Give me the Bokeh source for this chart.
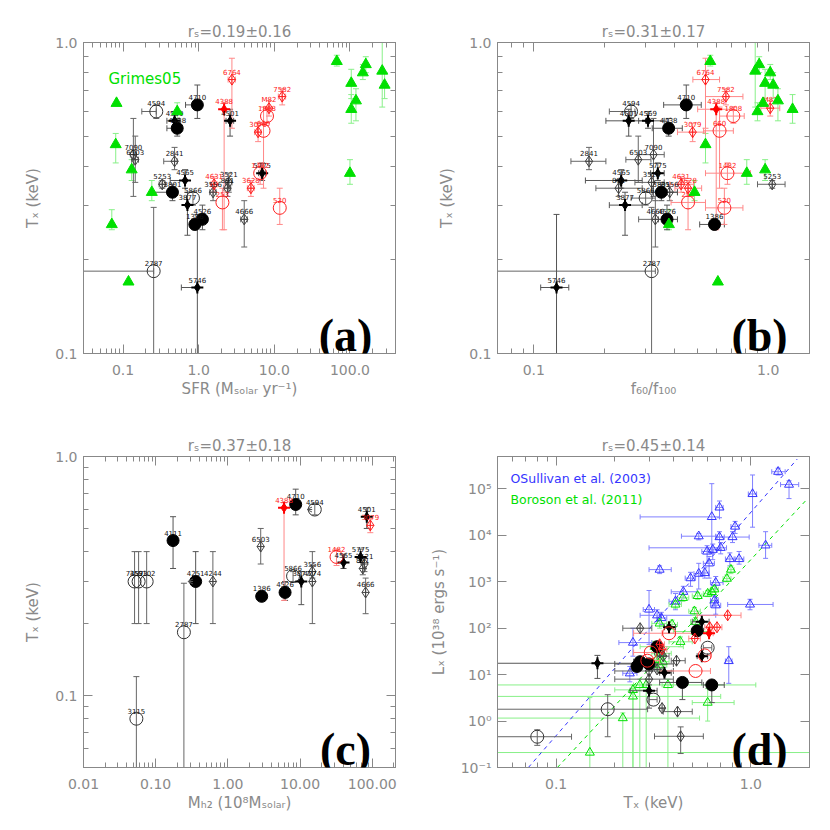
import math
from bokeh.plotting import figure
from bokeh.models import (Range1d, LogAxis, FixedTicker, CustomJSTickFormatter,
                          Label, Arrow, OpenHead)
from bokeh.layouts import row, column
from bokeh.embed import file_html
from bokeh.resources import INLINE
from bokeh.core.properties import value

nan = float("nan")

# ---------------- data ----------------
NAMES = ["4710", "4438", "3801", "1386", "4526", "4111", "4251",
         "4569", "4501", "4565", "3877", "5775", "5746",
         "7090", "6503", "2841", "5253", "3521", "3556", "891", "4666", "4244", "4274",
         "4594", "2787", "5866", "3115", "7457", "3593", "5102",
         "6764", "7582", "M82", "3079", "4631", "3628", "4388",
         "1808", "660", "520", "1482", "253"]
GROUP = ["fc", "fc", "fc", "fc", "fc", "fc", "fc",
         "fs", "fs", "fs", "fs", "fs", "fs",
         "od", "od", "od", "od", "od", "od", "od", "od", "od", "od",
         "oc", "oc", "oc", "oc", "oc", "oc", "oc",
         "rd", "rd", "rd", "rd", "rd", "rd", "rs",
         "rc", "rc", "rc", "rc", "rc"]
TX = [0.63, 0.53, 0.33, 0.26, 0.27, 0.445, 0.30,
      0.56, 0.56, 0.36, 0.30, 0.38, 0.163,
      0.436, 0.42, 0.415, 0.35, 0.355, 0.33, 0.34, 0.27, 0.30, 0.30,
      0.60, 0.184, 0.316, 0.08, 0.30, 0.30, 0.30,
      0.76, 0.67, 0.615, 0.515, 0.35, 0.34, 0.61,
      0.58, 0.52, 0.294, 0.38, 0.306]
TX_LO = [0.57, 0.50, 0.31, 0.25, 0.25, 0.34, 0.20,
         0.53, 0.50, 0.34, 0.24, 0.36, 0.05,
         0.32, 0.355, 0.39, 0.34, 0.33, 0.31, 0.32, 0.22, 0.20, 0.20,
         0.57, 0.05, 0.30, 0.05, 0.20, 0.20, 0.20,
         0.53, 0.63, 0.58, 0.48, 0.33, 0.32, 0.25,
         0.55, 0.34, 0.26, 0.35, 0.25]
TX_HI = [0.73, 0.57, 0.35, 0.27, 0.30, 0.56, 0.40,
         0.60, 0.61, 0.39, 0.33, 0.41, 0.28,
         0.57, 0.50, 0.46, 0.36, 0.38, 0.35, 0.36, 0.31, 0.40, 0.40,
         0.63, 0.295, 0.33, 0.12, 0.40, 0.40, 0.40,
         0.89, 0.71, 0.65, 0.55, 0.37, 0.36, 0.64,
         0.62, 0.62, 0.34, 0.41, 0.34]
SFR = [0.96, 0.52, 0.45, 0.89, 1.12, nan, nan,
       0.48, 2.6, 0.66, 0.71, 6.9, 0.96,
       0.137, 0.145, 0.48, 0.33, 2.5, 1.55, 2.4, 4.0, nan, nan,
       0.275, 0.254, 0.84, nan, nan, nan, nan,
       2.75, 12.7, 8.5, 6.1, 1.6, 4.9, 2.17,
       8.0, 7.2, 11.8, 6.5, 2.06]
SFR_LO = [0.67, 0.38, 0.24, nan, nan, nan, nan,
          0.38, 2.3, 0.42, nan, 6.2, 0.59,
          0.125, 0.13, 0.345, 0.30, 2.25, 1.4, 2.15, 3.6, nan, nan,
          0.177, 0.02, nan, nan, nan, nan, nan,
          2.45, 11.3, nan, 5.5, 1.45, 4.4, nan,
          nan, nan, nan, nan, nan]
SFR_HI = [1.0, 0.52, 0.45, nan, nan, nan, nan,
          0.55, 2.9, 0.66, nan, 7.6, 1.0,
          0.15, 0.16, 0.52, 0.36, 2.75, 1.7, 2.65, 4.4, nan, nan,
          0.275, 0.254, nan, nan, nan, nan, nan,
          3.05, 14.1, nan, 6.7, 1.75, 5.4, nan,
          nan, nan, nan, nan, nan]
F60 = [0.447, 0.376, 0.35, 0.59, 0.37, nan, nan,
       0.307, 0.254, 0.236, 0.245, 0.338, 0.125,
       0.324, 0.279, 0.172, 1.04, 0.318, 0.38, 0.23, 0.33, nan, nan,
       0.26, 0.318, 0.30, nan, nan, nan, nan,
       0.54, 0.66, 1.02, 0.476, 0.425, 0.455, 0.60,
       0.71, 0.62, 0.65, 0.67, 0.455]
F60_LO = [0.358, 0.32, 0.32, 0.51, 0.34, nan, nan,
          0.28, 0.203, 0.166, 0.21, 0.315, 0.107,
          0.28, 0.247, 0.144, 0.90, 0.27, 0.35, 0.184, 0.28, nan, nan,
          0.21, 0.05, 0.26, nan, nan, nan, nan,
          0.477, 0.54, 0.93, 0.41, 0.38, 0.40, 0.50,
          0.62, 0.53, 0.54, 0.54, 0.385]
F60_HI = [0.518, 0.43, 0.41, 0.65, 0.41, nan, nan,
          0.36, 0.30, 0.29, 0.29, 0.36, 0.141,
          0.36, 0.316, 0.203, 1.18, 0.36, 0.41, 0.29, 0.36, nan, nan,
          0.27, 0.33, 0.33, nan, nan, nan, nan,
          0.62, 0.78, 1.12, 0.54, 0.48, 0.52, 0.71,
          0.79, 0.71, 0.78, 0.84, 0.54]
MH2 = [8.7, nan, nan, 2.94, 6.2, 0.174, 0.358,
       nan, 84, 40, 10.4, 69, nan,
       nan, 2.85, nan, nan, 78, 14.8, 74, 81, 0.62, 14.8,
       16, 0.246, 8.0, 0.054, 0.051, 0.058, 0.075,
       nan, nan, nan, 94, nan, nan, 6.0,
       nan, nan, nan, 32, nan]
MH2_UPPER = ["4251", "4594"]
LX = [6, 88, 40, 15, 19, 6.8, 17,
      25, 138, 11, 4.5, 105, 17.6,
      0.47, 1.6, 20, 1.9, 25, 13, 30, 100, 8, 12,
      38, 1.8, 2.9, 0.46, nan, nan, nan,
      190, 105, 105, 60, 35, 45, 78,
      26, 12, 20, 78, 30]
LX_LO = [2.5, nan, nan, nan, nan, 2.9, nan,
         nan, nan, nan, 1.9, nan, 8.3,
         0.2, nan, nan, nan, nan, nan, nan, nan, nan, nan,
         nan, 0.46, nan, 0.3, nan, nan, nan,
         nan, nan, nan, nan, nan, nan, nan,
         nan, nan, nan, nan, nan]
LX_HI = [7.5, nan, nan, nan, nan, 8.0, nan,
         nan, nan, nan, 6.0, nan, 26,
         0.75, nan, nan, nan, nan, nan, nan, nan, nan, nan,
         nan, 3.7, nan, 0.65, nan, nan, nan,
         nan, nan, nan, nan, nan, nan, nan,
         nan, nan, nan, nan, nan]

# Grimes et al. 2005 (green triangles, panels a & b)
G_TX = [0.87, 0.85, 0.81, 0.80, 0.74, 0.73, 0.65, 0.638, 0.61, 0.60, 0.47, 0.39, 0.38, 0.33, 0.26, 0.17]
G_TX_LO = [0.84, 0.80, 0.62, 0.76, 0.66, 0.66, 0.56, nan, 0.55, 0.56, 0.41, 0.36, 0.35, 0.31, 0.25, nan]
G_TX_HI = [0.91, 0.90, 1.04, 0.85, 0.82, 0.80, 0.71, nan, 0.68, 0.64, 0.51, 0.42, 0.42, 0.36, 0.29, nan]
G_SFR = [67, 162, 267, 148, 104, 287, 120, 0.082, 104, 0.52, 0.08, 0.13, 100, 0.24, 0.071, 0.118]
G_F60 = [0.566, 0.915, 0.88, 1.02, 0.97, 1.05, 1.1, 0.95, 1.27, 0.90, 0.54, 0.97, 0.81, 0.485, 0.377, 0.61]

# O'Sullivan et al. 2003 (blue, panel d)
OS_T = [1.38, 1.57, 1.02, 0.69, 0.63, 0.83, 0.54, 0.69, 0.805, 0.70, 1.19, 0.596, 0.637, 0.78, 0.87, 0.61,
        0.34, 0.54, 0.58, 0.49, 0.66, 0.45, 0.41, 0.65, 0.66, 0.99, 0.30, 0.33, 0.347, 0.248, 0.239, 0.77]
OS_T_LO = [1.28, 1.42, 0.97, 0.66, 0.27, 0.79, 0.44, 0.66, 0.67, 0.30, 1.10, 0.56, 0.60, 0.74, 0.83, 0.57,
           0.30, 0.51, 0.55, 0.46, 0.62, 0.39, 0.38, 0.62, 0.62, 0.76, 0.28, 0.27, 0.33, 0.21, 0.22, 0.74]
OS_T_HI = [1.50, 1.76, 1.07, 0.72, 0.69, 0.87, 0.66, 0.73, 0.98, 0.75, 1.28, 0.64, 0.67, 0.82, 0.92, 0.65,
           0.39, 0.57, 0.61, 0.52, 0.72, 0.53, 0.44, 0.68, 0.70, 1.30, 0.32, 0.66, 0.37, 0.31, 0.26, 0.80]
OS_L = [2.35e5, 1.24e5, 7.8e4, 4.0e4, 2.5e4, 1.55e4, 9.6e3, 9.2e3, 9.2e3, 5.4e3, 6.1e3, 4.5e3, 4.9e3, 3.1e3,
        3.1e3, 2.5e3, 1.83e3, 1.5e3, 1.55e3, 1.2e3, 960, 610, 380, 400, 313, 325, 253, 190, 166, 49, 10.7, 19.7]
OS_L_LO = [2.0e5, 6.2e4, 1.5e4, 2.4e4, 4.1e3, 1.1e4, 8e3, 5e3, 7e3, 4e3, 3.2e3, 2.5e3, 3e3, 2.2e3,
           2.4e3, 1.2e3, 1.5e3, 700, 1.2e3, 800, 700, 450, 250, 300, 200, 250, 45, 140, 120, 25, 7, 6.5]
OS_L_HI = [2.8e5, 1.5e5, 2.0e5, 5.5e4, 1.3e5, 2.0e4, 1.1e4, 1.2e4, 1.2e4, 7e3, 1.2e4, 6e3, 6.5e3, 4.2e3,
           4.5e3, 3.5e3, 2.2e3, 2.5e3, 2e3, 1.6e3, 1.3e3, 800, 560, 520, 460, 420, 650, 250, 220, 100, 15, 40]
OS_FIT_T = [0.072, 1.73]
OS_FIT_L = [0.1, 4.4e5]

# Boroson et al. 2011 (green open triangles, panel d)
BO_T = [0.79, 0.753, 0.65, 0.63, 0.60, 0.533, 0.448, 0.41, 0.34, 0.394, 0.513, 0.52, 0.435, 0.32,
        0.347, 0.327, 0.353, 0.29, 0.269, 0.375, 0.248, 0.248, 0.60, 0.22, 0.149, 0.52, 0.34]
BO_T_LO = [0.76, 0.72, 0.62, 0.60, 0.57, 0.50, 0.42, 0.38, 0.31, 0.37, 0.48, 0.49, 0.38, 0.27,
           0.31, 0.30, 0.33, 0.02, 0.25, 0.35, 0.20, 0.02, 0.50, 0.02, 0.02, 0.40, 0.31]
BO_T_HI = [0.82, 0.79, 0.68, 0.66, 0.63, 0.56, 0.48, 0.44, 0.37, 0.42, 0.55, 0.56, 0.50, 0.45,
           0.39, 0.36, 0.38, 1.06, 0.29, 0.40, 0.30, 0.70, 0.82, 0.545, 3.0, 0.62, 0.37]
BO_L = [1830, 1170, 690, 605, 557, 497, 451, 325, 127, 121, 233, 138, 51, 40,
        28.8, 20.7, 19, 6.0, 6.0, 6.0, 4.7, 3.4, 2.5, 1.16, 0.21, 85, 16]
BO_L_LO = [1500, 1000, 600, 520, 480, 420, 380, 270, 100, 95, 190, 110, 40, 30,
           22, 15, 14, 0.01, 0.01, 0.01, 0.01, 0.01, 1.0, 0.01, 0.01, 70, 12]
BO_L_HI = [2200, 1400, 800, 700, 650, 580, 530, 390, 160, 150, 280, 170, 65, 52,
           37, 27, 25, 8, 8, 8, 6, 5, 5, 1.5, 3.2, 100, 21]
BO_FIT_T = [0.1015, 1.95]
BO_FIT_L = [0.1, 6.1e4]

TITLES = ["r\u209b=0.19\u00b10.16", "r\u209b=0.31\u00b10.17",
          "r\u209b=0.37\u00b10.18", "r\u209b=0.45\u00b10.14"]
PANEL_TAGS = ["(a)", "(b)", "(c)", "(d)"]
XLABELS = ["SFR (M\u209b\u2092\u2097\u2090\u1d63 yr\u207b\u00b9)",
           "f\u2086\u2080/f\u2081\u2080\u2080",
           "M\u2095\u2082 (10\u2078M\u209b\u2092\u2097\u2090\u1d63)",
           "T\u2093 (keV)"]
YLABELS = ["T\u2093 (keV)", "T\u2093 (keV)", "T\u2093 (keV)",
           "L\u2093 (10\u00b3\u2078 ergs s\u207b\u00b9)"]

# ---------------- style ----------------
FONT = "DejaVu Sans"
AXC = "#888888"
TXTC = "#8a8a8a"
GREEN = "#00e000"
GREEN_E = "#88f088"
BLUE = "#3535ff"
BLUE_E = "#8080ff"


def minors(lo, hi):
    out = []
    for e in range(-3, 6):
        for k in range(2, 10):
            v = k * 10.0 ** e
            if lo <= v <= hi:
                out.append(v)
    return out


FMT1 = CustomJSTickFormatter(code="return tick.toFixed(1);")
FMT2 = CustomJSTickFormatter(code="return tick.toFixed(2);")
BLANK = CustomJSTickFormatter(code="return '';")
FMTEXP = CustomJSTickFormatter(code="""
const sup = {'-':'\u207b','0':'\u2070','1':'\u00b9','2':'\u00b2','3':'\u00b3','4':'\u2074',
             '5':'\u2075','6':'\u2076','7':'\u2077','8':'\u2078','9':'\u2079'};
const e = Math.round(Math.log10(tick)).toString();
let s = '';
for (const c of e) { s += sup[c]; }
return '10' + s;
""")


def style_axis(ax, ticker, fmt, is_x, visible_labels):
    ax.ticker = ticker
    ax.formatter = fmt
    ax.axis_line_color = AXC
    ax.major_tick_line_color = AXC
    ax.minor_tick_line_color = AXC
    ax.major_tick_in = 9
    ax.major_tick_out = 0
    ax.minor_tick_in = 5
    ax.minor_tick_out = 0
    ax.major_label_text_font = FONT
    ax.major_label_text_color = TXTC
    if visible_labels:
        ax.major_label_text_font_size = "14px"
        ax.major_label_standoff = 11 if is_x else 6
    else:
        ax.major_label_text_font_size = "0px"
        ax.major_label_standoff = 0
    ax.axis_label_text_font = FONT
    ax.axis_label_text_font_size = "15px"
    ax.axis_label_text_font_style = "normal"
    ax.axis_label_text_color = TXTC
    ax.axis_label_standoff = 2 if is_x else 10


def make_fig(k, xr, yr, xt, xm, yt, ym, fx, fy, left, right, top, bottom):
    p = figure(x_axis_type="log", y_axis_type="log",
               x_range=Range1d(*xr), y_range=Range1d(*yr),
               frame_width=312, frame_height=311,
               min_border_left=left, min_border_right=right,
               min_border_top=top, min_border_bottom=bottom,
               toolbar_location=None, output_backend="svg",
               outline_line_color=AXC, background_fill_color="white",
               border_fill_color="white", title=TITLES[k])
    p.title.align = "center"
    p.title.text_font = FONT
    p.title.text_font_size = "15px"
    p.title.text_font_style = "normal"
    p.title.text_color = TXTC
    p.title.standoff = 4
    p.grid.visible = False
    p.add_layout(LogAxis(), "above")
    p.add_layout(LogAxis(), "right")
    xtk = FixedTicker(ticks=xt, minor_ticks=xm)
    ytk = FixedTicker(ticks=yt, minor_ticks=ym)
    style_axis(p.below[0], xtk, fx, True, True)
    style_axis(p.above[0], xtk, BLANK, True, False)
    style_axis(p.left[0], ytk, fy, False, True)
    style_axis(p.right[0], ytk, BLANK, False, False)
    p.below[0].axis_label = XLABELS[k]
    p.left[0].axis_label = YLABELS[k]
    p.add_layout(Label(x=262, y=18, x_units="screen", y_units="screen", text=PANEL_TAGS[k],
                       text_font="Liberation Serif", text_font_style="bold",
                       text_font_size="46px", text_color="black", text_align="center",
                       text_baseline="alphabetic"))
    return p


def ok(v):
    return v == v


def errorbars(p, xs, ys, xlo, xhi, ylo, yhi, color, cap=6, width=1):
    if ylo is not None:
        vx, v0, v1 = [], [], []
        for x, y, a, b in zip(xs, ys, ylo, yhi):
            if ok(x) and ok(y) and ok(a) and ok(b):
                vx.append(x); v0.append(a); v1.append(b)
        if vx:
            p.segment(x0=vx, y0=v0, x1=vx, y1=v1, line_color=color, line_width=width)
            p.scatter(x=vx + vx, y=v0 + v1, marker="dash", size=cap, line_color=color,
                      line_width=width)
    if xlo is not None:
        hy, h0, h1 = [], [], []
        for x, y, a, b in zip(xs, ys, xlo, xhi):
            if ok(x) and ok(y) and ok(a) and ok(b):
                hy.append(y); h0.append(a); h1.append(b)
        if hy:
            p.segment(x0=h0, y0=hy, x1=h1, y1=hy, line_color=color, line_width=width)
            p.scatter(x=h0 + h1, y=hy + hy, marker="dash", angle=math.pi / 2, size=cap,
                      line_color=color, line_width=width)


GCOL = {"fc": ("black", "#555555", "#111111"),
        "fs": ("black", "#555555", "#111111"),
        "od": ("#444444", "#666666", "#111111"),
        "oc": ("#333333", "#666666", "#111111"),
        "rc": ("#ff2020", "#ff8888", "#ff2020"),
        "rd": ("#ff2020", "#ff8888", "#ff2020"),
        "rs": ("#ff0000", "#ff8888", "#ff2020")}


def draw_symbols(p, g, xs, ys):
    col = GCOL[g][0]
    if g == "fc":
        p.scatter(xs, ys, marker="circle", size=12, fill_color=col, line_color=col)
    elif g in ("fs", "rs"):
        p.scatter(xs, ys, marker="cross", size=12, line_color=col, line_width=2)
        p.scatter(xs, ys, marker="diamond", size=9, fill_color=col, line_color=col)
    elif g in ("od", "rd"):
        p.scatter(xs, ys, marker="diamond_cross", size=11, fill_color=None, line_color=col)
    else:
        p.scatter(xs, ys, marker="circle", size=13, fill_color=None, line_color=col)


def draw_galaxies(p, X, XLO, XHI, Y, YLO, YHI, labels=True):
    order = ["oc", "od", "fc", "fs", "rc", "rd", "rs"]
    for g in order:
        idx = [i for i in range(len(NAMES)) if GROUP[i] == g and ok(X[i]) and ok(Y[i])]
        if not idx:
            continue
        errorbars(p, [X[i] for i in idx], [Y[i] for i in idx],
                  [XLO[i] for i in idx] if XLO else None,
                  [XHI[i] for i in idx] if XHI else None,
                  [YLO[i] for i in idx] if YLO else None,
                  [YHI[i] for i in idx] if YHI else None,
                  GCOL[g][1])
    for g in order:
        idx = [i for i in range(len(NAMES)) if GROUP[i] == g and ok(X[i]) and ok(Y[i])]
        if idx:
            draw_symbols(p, g, [X[i] for i in idx], [Y[i] for i in idx])
    if labels:
        for g in order:
            idx = [i for i in range(len(NAMES)) if GROUP[i] == g and ok(X[i]) and ok(Y[i])]
            if idx:
                p.text([X[i] for i in idx], [Y[i] for i in idx], text=[NAMES[i] for i in idx],
                       text_font=value(FONT), text_font_size="7px", text_color=GCOL[g][2],
                       text_align="center", text_baseline="alphabetic", y_offset=-8)


# ---------------- panel (a) ----------------
pa = make_fig(0, (0.03, 400), (0.1, 1.0), [0.1, 1, 10, 100], minors(0.03, 400),
              [0.1, 1.0], minors(0.1, 1.0), FMT1, FMT1, 83, 28, 42, 69)
errorbars(pa, G_SFR, G_TX, None, None, G_TX_LO, G_TX_HI, GREEN_E)
draw_galaxies(pa, SFR, SFR_LO, SFR_HI, TX, TX_LO, TX_HI)
pa.scatter(G_SFR, G_TX, marker="triangle", size=11, fill_color=GREEN, line_color=GREEN)
pa.add_layout(Label(x=25, y=275, x_units="screen", y_units="screen", text="Grimes05",
                    text_font=FONT, text_font_size="15px", text_color=GREEN,
                    text_baseline="alphabetic"))

# ---------------- panel (b) ----------------
pb = make_fig(1, (0.07, 1.5), (0.1, 1.0), [0.1, 1.0], minors(0.07, 1.5),
              [0.1, 1.0], minors(0.1, 1.0), FMT1, FMT1, 74, 13, 42, 69)
errorbars(pb, G_F60, G_TX, None, None, G_TX_LO, G_TX_HI, GREEN_E)
draw_galaxies(pb, F60, F60_LO, F60_HI, TX, TX_LO, TX_HI)
pb.scatter(G_F60, G_TX, marker="triangle", size=11, fill_color=GREEN, line_color=GREEN)

# ---------------- panel (c) ----------------
pc = make_fig(2, (0.01, 210), (0.05, 1.0), [0.01, 0.1, 1, 10, 100], minors(0.01, 210),
              [0.1, 1.0], minors(0.05, 1.0), FMT2, FMT1, 83, 28, 34, 55)
draw_galaxies(pc, MH2, None, None, TX, TX_LO, TX_HI)
for nm in MH2_UPPER:
    i = NAMES.index(nm)
    pc.add_layout(Arrow(x_start=MH2[i] * 0.92, y_start=TX[i], x_end=MH2[i] * 0.78, y_end=TX[i],
                        line_color="#555555", line_width=1,
                        end=OpenHead(size=5, line_color="#555555", line_width=1)))

# ---------------- panel (d) ----------------
pd = make_fig(3, (0.05, 2.0), (0.1, 5e5), [0.1, 1.0], minors(0.05, 2.0),
              [0.1, 1, 10, 100, 1e3, 1e4, 1e5], [], FMT1, FMTEXP, 74, 13, 34, 55)
errorbars(pd, OS_T, OS_L, OS_T_LO, OS_T_HI, OS_L_LO, OS_L_HI, BLUE_E, cap=5)
errorbars(pd, BO_T, BO_L, BO_T_LO, BO_T_HI, BO_L_LO, BO_L_HI, GREEN_E, cap=5)
pd.line(OS_FIT_T, OS_FIT_L, line_color=BLUE, line_dash="4 4", line_width=1)
pd.line(BO_FIT_T, BO_FIT_L, line_color=GREEN, line_dash="4 4", line_width=1)
pd.scatter(OS_T, OS_L, marker="triangle", size=9, fill_color=None, line_color=BLUE)
pd.scatter(BO_T, BO_L, marker="triangle", size=9, fill_color=None, line_color=GREEN)
draw_galaxies(pd, TX, TX_LO, TX_HI, LX, LX_LO, LX_HI, labels=False)
pd.add_layout(Label(x=13, y=289, x_units="screen", y_units="screen",
                    text="OSullivan et al. (2003)", text_font=FONT, text_font_size="12.5px",
                    text_color=BLUE, text_baseline="alphabetic"))
pd.add_layout(Label(x=13, y=268, x_units="screen", y_units="screen",
                    text="Boroson et al. (2011)", text_font=FONT, text_font_size="12.5px",
                    text_color=GREEN, text_baseline="alphabetic"))

layout = column(row(pa, pb), row(pc, pd))
open("out.html", "w").write(file_html(layout, INLINE))
